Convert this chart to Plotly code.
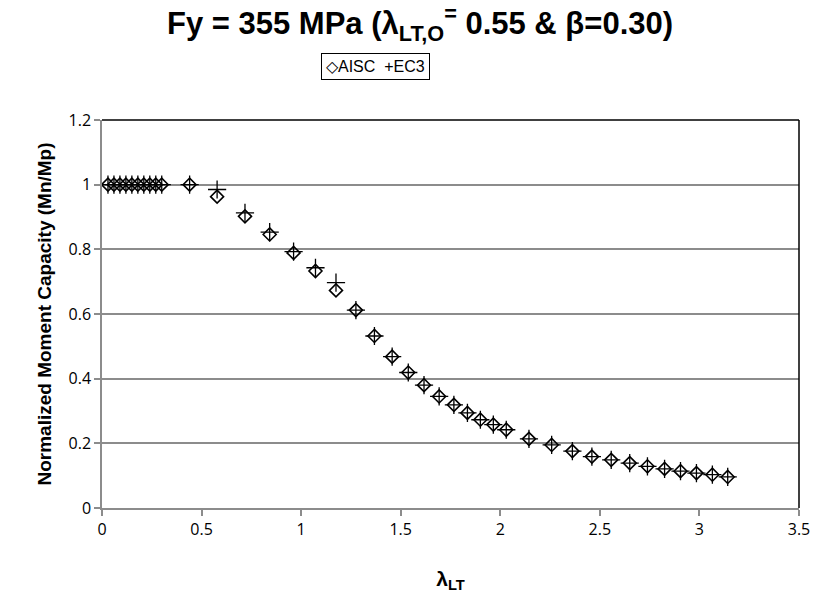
import plotly.graph_objects as go

lam = [0.03, 0.06, 0.09, 0.12, 0.15, 0.18, 0.21, 0.24, 0.27, 0.30,
       0.44, 0.578, 0.718, 0.842, 0.962, 1.072, 1.175, 1.275, 1.368, 1.457,
       1.538, 1.617, 1.693, 1.767, 1.835, 1.90, 1.965, 2.03, 2.144, 2.258,
       2.362, 2.46, 2.557, 2.65, 2.739, 2.825, 2.905, 2.985, 3.065, 3.142]
aisc = [1, 1, 1, 1, 1, 1, 1, 1, 1, 1,
        1, 0.963, 0.902, 0.846, 0.789, 0.733, 0.673, 0.612, 0.532, 0.468,
        0.419, 0.380, 0.345, 0.319, 0.294, 0.273, 0.258, 0.242, 0.214, 0.195,
        0.176, 0.159, 0.149, 0.139, 0.129, 0.121, 0.114, 0.108, 0.103, 0.096]
ec3 = [1, 1, 1, 1, 1, 1, 1, 1, 1, 1,
       1, 0.985, 0.913, 0.853, 0.793, 0.743, 0.697, 0.612, 0.532, 0.468,
       0.419, 0.380, 0.345, 0.319, 0.294, 0.273, 0.258, 0.242, 0.214, 0.195,
       0.176, 0.159, 0.149, 0.139, 0.129, 0.121, 0.114, 0.108, 0.103, 0.096]

series_names = ["AISC", "EC3"]
x_ticks = [0, 0.5, 1, 1.5, 2, 2.5, 3, 3.5]
x_tick_text = ["0", "0.5", "1", "1.5", "2", "2.5", "3", "3.5"]
y_ticks = [0, 0.2, 0.4, 0.6, 0.8, 1.0, 1.2]
y_tick_text = ["0", "0.2", "0.4", "0.6", "0.8", "1", "1.2"]

ARIAL = "Liberation Sans, Arial, sans-serif"
fig = go.Figure()
fig.add_trace(go.Scatter(
    x=lam, y=aisc, mode="markers", name=series_names[0], showlegend=False,
    marker=dict(symbol="diamond-open", size=10, color="black",
                line=dict(width=1.6, color="black"))))
fig.add_trace(go.Scatter(
    x=lam, y=ec3, mode="markers", name=series_names[1], showlegend=False,
    marker=dict(symbol="cross-thin-open", size=13, color="black",
                line=dict(width=1.3, color="black"))))

tick_font = dict(family="Open Sans, sans-serif", size=16, color="black")

fig.update_layout(
    width=822, height=611,
    margin=dict(l=102, r=17, t=120, b=103),
    paper_bgcolor="white", plot_bgcolor="white",
    title=dict(
        text="<b>Fy = 355 MPa (λ<sub>LT,O</sub><sup>=</sup> 0.55 & β=0.30)</b>",
        x=0.511, xanchor="center", y=0.962, yanchor="middle",
        font=dict(family=ARIAL, size=31, color="black")),
    xaxis=dict(
        range=[0, 3.5], tickvals=x_ticks, ticktext=x_tick_text,
        showgrid=False, zeroline=False,
        showline=True, linecolor="#8c8c8c", linewidth=1.5,
        ticks="outside", ticklen=6, tickcolor="#8c8c8c", tickwidth=1.5,
        tickfont=tick_font,
        title=dict(text="<b>λ<sub>LT</sub></b>", standoff=32,
                   font=dict(family=ARIAL, size=21, color="black"))),
    yaxis=dict(
        range=[0, 1.2], tickvals=y_ticks, ticktext=y_tick_text,
        showgrid=True, gridcolor="#8c8c8c", gridwidth=1.5,
        zeroline=False,
        showline=True, linecolor="#8c8c8c", linewidth=1.5,
        ticks="outside", ticklen=6, tickcolor="#8c8c8c", tickwidth=1.5,
        tickfont=tick_font,
        title=dict(text="<b>Normalized Moment Capacity (Mn/Mp)</b>", standoff=12,
                   font=dict(family=ARIAL, size=19, color="black"))),
)

# legend box built as text: diamond for AISC, plus for EC3
fig.add_annotation(
    xref="paper", yref="paper", x=0.393, y=1.138, xanchor="center", yanchor="middle",
    text="◇" + series_names[0] + "  +" + series_names[1],
    showarrow=False, font=dict(family=ARIAL, size=16, color="black"),
    bordercolor="black", borderwidth=1, borderpad=4, bgcolor="white")

# black top and right frame
fig.add_shape(type="line", xref="paper", yref="paper", x0=0, x1=1, y0=1, y1=1,
              line=dict(color="black", width=1.5))
fig.add_shape(type="line", xref="paper", yref="paper", x0=1, x1=1, y0=0, y1=1,
              line=dict(color="black", width=1.5))

fig.write_html("out.html")
